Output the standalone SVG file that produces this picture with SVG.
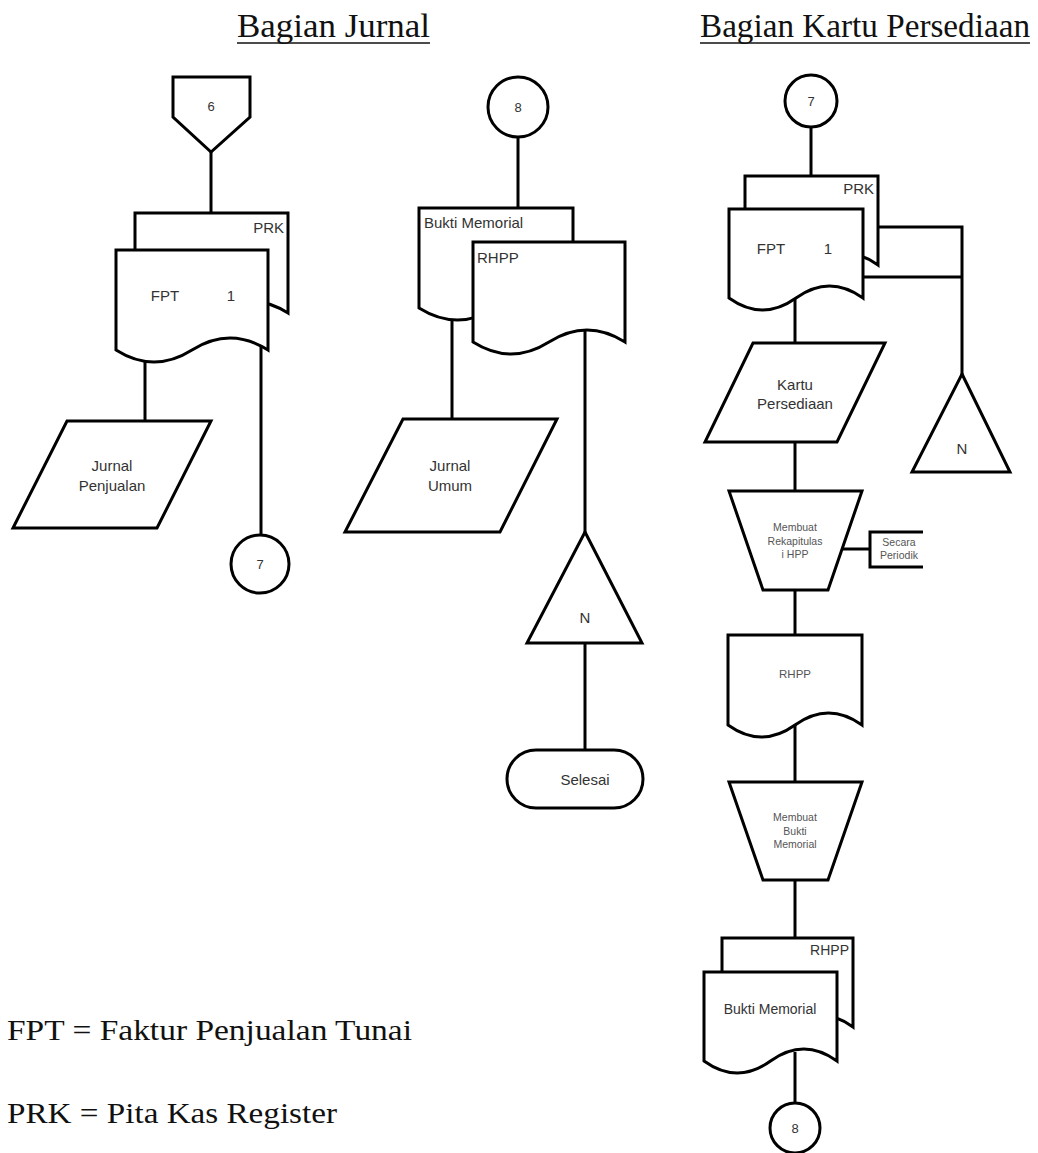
<svg xmlns="http://www.w3.org/2000/svg" width="1038" height="1153" viewBox="0 0 1038 1153">
<style>
.s{fill:#fff;stroke:#000;stroke-width:3;stroke-linejoin:miter}
.c{fill:none;stroke:#000;stroke-width:3}
.t{font-family:"Liberation Sans",Arial,sans-serif;font-size:15px;fill:#333;text-anchor:middle;dominant-baseline:central}
.sm{font-size:10.5px;fill:#555}
.h{font-family:"Liberation Serif","Times New Roman",serif;font-size:33px;fill:#111}
</style>
<rect width="1038" height="1153" fill="#fff"/>
<g id="headings">
<text class="h" x="237" y="37" textLength="193" lengthAdjust="spacingAndGlyphs">Bagian Jurnal</text>
<line x1="237" y1="43" x2="430" y2="43" stroke="#111" stroke-width="1.5"/>
<text class="h" x="700" y="37" textLength="330" lengthAdjust="spacingAndGlyphs">Bagian Kartu Persediaan</text>
<line x1="700" y1="43" x2="1030" y2="43" stroke="#111" stroke-width="1.5"/>
</g>
<g id="connectors">
<line class="c" x1="211" y1="150" x2="211" y2="214"/>
<line class="c" x1="145" y1="355" x2="145" y2="422"/>
<line class="c" x1="261" y1="345" x2="261" y2="536"/>
<line class="c" x1="518" y1="136" x2="518" y2="209"/>
<line class="c" x1="452" y1="315" x2="452" y2="420"/>
<line class="c" x1="585" y1="331" x2="585" y2="533"/>
<line class="c" x1="585" y1="642" x2="585" y2="751"/>
<line class="c" x1="811" y1="126" x2="811" y2="177"/>
<line class="c" x1="795" y1="296" x2="795" y2="344"/>
<polyline class="c" points="876,227 962,227 962,375"/>
<line class="c" x1="861" y1="277" x2="962" y2="277"/>
<line class="c" x1="795" y1="441" x2="795" y2="492"/>
<line class="c" x1="795" y1="589" x2="795" y2="636"/>
<line class="c" x1="795" y1="723" x2="795" y2="783"/>
<line class="c" x1="795" y1="879" x2="795" y2="939"/>
<line class="c" x1="795" y1="1052" x2="795" y2="1104"/>
<line class="c" x1="841" y1="549" x2="870" y2="549"/>
</g>
<g id="conn6">
<polygon class="s" points="173,77 250,77 250,117 211,152 173,117"/>
<text class="t" x="211" y="106" style="font-size:13px">6</text>
</g>
<g id="docPRK1">
<path class="s" d="M135,213 H288 V313 Q249.75,289 211.5,313 T135,313 Z"/>
<text class="t" x="284" y="227" style="text-anchor:end">PRK</text>
</g>
<g id="docFPT1">
<path class="s" d="M116,250 H268 V350 Q230,326 192,350 T116,350 Z"/>
<text class="t" x="165" y="295">FPT</text>
<text class="t" x="231" y="295">1</text>
</g>
<g id="jurnalPenjualan">
<polygon class="s" points="67,421 211,421 157,528 13,528"/>
<text class="t" x="112" y="465">Jurnal</text>
<text class="t" x="112" y="485">Penjualan</text>
</g>
<g id="conn7a">
<circle class="s" cx="260" cy="564" r="29"/>
<text class="t" x="260" y="564" style="font-size:13px">7</text>
</g>
<g id="conn8a">
<circle class="s" cx="518" cy="107" r="30"/>
<text class="t" x="518" y="107" style="font-size:13px">8</text>
</g>
<g id="docBuktiMemorial1">
<path class="s" d="M419,208 H573 V308 Q534.5,284 496,308 T419,308 Z"/>
<text class="t" x="424" y="222" style="text-anchor:start">Bukti Memorial</text>
</g>
<g id="docRHPP1">
<path class="s" d="M473,242 H625 V342 Q587,318 549,342 T473,342 Z"/>
<text class="t" x="477" y="257" style="text-anchor:start">RHPP</text>
</g>
<g id="jurnalUmum">
<polygon class="s" points="403,419 557,419 500,532 345,532"/>
<text class="t" x="450" y="465">Jurnal</text>
<text class="t" x="450" y="485">Umum</text>
</g>
<g id="arsipN1">
<polygon class="s" points="585,532 642,643 527,643"/>
<text class="t" x="585" y="617">N</text>
</g>
<g id="selesai">
<rect class="s" x="507" y="750" width="136" height="58" rx="29" ry="29"/>
<text class="t" x="585" y="779">Selesai</text>
</g>
<g id="conn7b">
<circle class="s" cx="811" cy="101" r="26"/>
<text class="t" x="811" y="101" style="font-size:13px">7</text>
</g>
<g id="docPRK2">
<path class="s" d="M745,176 H878 V265 Q844.75,241 811.5,265 T745,265 Z"/>
<text class="t" x="874" y="188" style="text-anchor:end">PRK</text>
</g>
<g id="docFPT2">
<path class="s" d="M729,209 H863 V298 Q829.5,274 796,298 T729,298 Z"/>
<text class="t" x="771" y="248">FPT</text>
<text class="t" x="828" y="248">1</text>
</g>
<g id="kartuPersediaan">
<polygon class="s" points="753,343 885,343 837,442 705,442"/>
<text class="t" x="795" y="384">Kartu</text>
<text class="t" x="795" y="403">Persediaan</text>
</g>
<g id="arsipN2">
<polygon class="s" points="962,374 1010,472 912,472"/>
<text class="t" x="962" y="448">N</text>
</g>
<g id="membuatRekap">
<polygon class="s" points="729,491 862,491 828,590 763,590"/>
<text class="t sm" x="795" y="527">Membuat</text>
<text class="t sm" x="795" y="541">Rekapitulas</text>
<text class="t sm" x="795" y="554">i HPP</text>
</g>
<g id="secaraPeriodik">
<path class="c" d="M923,532 H870 V567 H923"/>
<text class="t sm" x="899" y="542">Secara</text>
<text class="t sm" x="899" y="555">Periodik</text>
</g>
<g id="docRHPP2">
<path class="s" d="M728,635 H862 V725 Q828.5,701 795,725 T728,725 Z"/>
<text class="t" x="795" y="674" style="font-size:11.5px;fill:#555">RHPP</text>
</g>
<g id="membuatBukti">
<polygon class="s" points="729,782 862,782 828,880 763,880"/>
<text class="t sm" x="795" y="817">Membuat</text>
<text class="t sm" x="795" y="831">Bukti</text>
<text class="t sm" x="795" y="844">Memorial</text>
</g>
<g id="docRHPP3">
<path class="s" d="M722,938 H853 V1027 Q820.25,1003 787.5,1027 T722,1027 Z"/>
<text class="t" x="849" y="950" style="text-anchor:end;font-size:14px">RHPP</text>
</g>
<g id="docBuktiMemorial2">
<path class="s" d="M704,972 H837 V1061 Q803.75,1037 770.5,1061 T704,1061 Z"/>
<text class="t" x="770" y="1009" style="font-size:14px">Bukti Memorial</text>
</g>
<g id="conn8b">
<circle class="s" cx="795" cy="1128" r="25"/>
<text class="t" x="795" y="1128" style="font-size:13px">8</text>
</g>
<g id="legend">
<text class="h" x="7" y="1040" style="font-size:30px" textLength="405" lengthAdjust="spacingAndGlyphs">FPT = Faktur Penjualan Tunai</text>
<text class="h" x="7" y="1123" style="font-size:30px" textLength="330" lengthAdjust="spacingAndGlyphs">PRK = Pita Kas Register</text>
</g>
</svg>
